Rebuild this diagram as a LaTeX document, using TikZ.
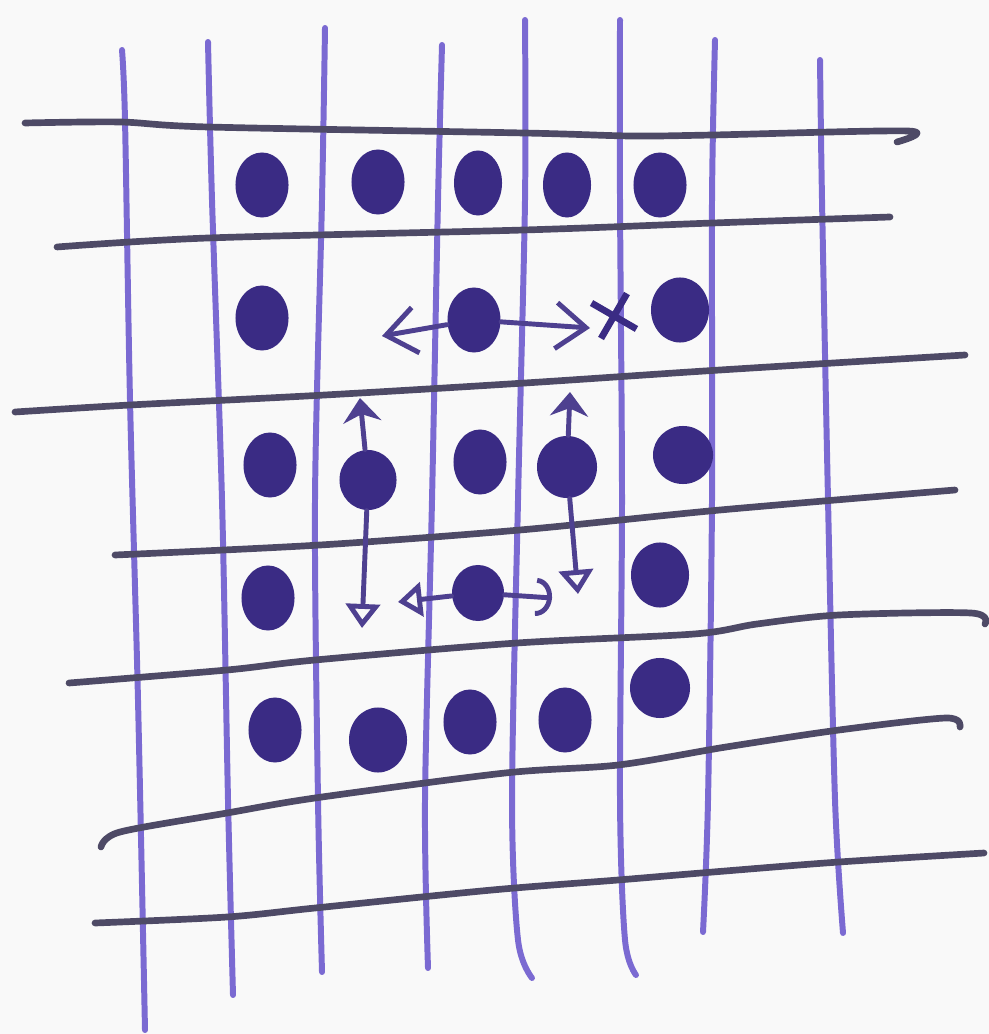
\documentclass[tikz,border=0pt]{standalone}
\usepackage{xcolor}
\usetikzlibrary{shapes.geometric, shapes.misc, arrows.meta}

\definecolor{penblue}{HTML}{7B6AD2}
\definecolor{pengrey}{HTML}{4E4A66}
\definecolor{inkdot}{HTML}{3A2B84}
\definecolor{paper}{HTML}{F9F9F9}

\begin{document}
\begin{tikzpicture}[
    x=0.01cm, y=-0.01cm,
    vline/.style={draw=penblue, line width=1.7pt, line cap=round, line join=round},
    hline/.style={draw=pengrey, line width=1.9pt, line cap=round, line join=round},
    dot/.style={ellipse, fill=inkdot, minimum width=0.53cm, minimum height=0.65cm, inner sep=0pt},
    move/.style={draw=inkdot!90, line width=1.4pt, line cap=round},
    sidebarb/.style={move, -{Straight Barb[length=3mm, width=4.6mm]}},
    upstealth/.style={move, -{Stealth[length=2.4mm, width=3.8mm]}},
    downopen/.style={move, -{Triangle[open, length=2.4mm, width=3.4mm]}},
    curlend/.style={move, -{Arc Barb[length=1.6mm, width=3.8mm]}}
]
    % Paper
    \fill[paper] (0,0) rectangle (989,1034);
    \useasboundingbox (0,0) rectangle (989,1034);

    % Vertical lines
    \draw[vline] plot[smooth, tension=0.5] coordinates {(122,50) (125,120) (130,400) (138,700) (145,1030)};
    \draw[vline] plot[smooth, tension=0.5] coordinates {(208,42) (212,200) (222,500) (228,800) (233,995)};
    \draw[vline] plot[smooth, tension=0.5] coordinates {(325,28) (322,200) (315,500) (318,800) (322,972)};
    \draw[vline] plot[smooth, tension=0.5] coordinates {(442,45) (438,200) (432,500) (425,800) (428,968)};
    \draw[vline] plot[smooth, tension=0.5] coordinates {(525,20) (525,200) (518,500) (512,800) (518,940) (532,978)};
    \draw[vline] plot[smooth, tension=0.5] coordinates {(620,20) (620,200) (622,500) (620,800) (625,940) (636,975)};
    \draw[vline] plot[smooth, tension=0.5] coordinates {(715,40) (712,200) (712,500) (708,800) (703,932)};
    \draw[vline] plot[smooth, tension=0.5] coordinates {(820,60) (822,200) (828,500) (835,800) (843,933)};

    % Horizontal lines
    \draw[hline] plot[smooth, tension=0.5] coordinates {(25,123) (120,122) (208,127) (524,133) (631,136) (713,135) (908,131) (897,142)};
    \draw[hline] plot[smooth, tension=0.5] coordinates {(57,247) (208,238) (524,230) (713,223) (890,217)};
    \draw[hline] plot[smooth, tension=0.5] coordinates {(15,412) (130,405) (325,395) (525,383) (720,370) (965,355)};
    \draw[hline] plot[smooth, tension=0.5] coordinates {(115,555) (320,545) (520,530) (720,510) (955,490)};
    \draw[hline] plot[smooth, tension=0.5] coordinates {(69,683) (227,670) (315,660) (517,643) (694,634) (757,624) (839,615) (971,613) (985,624)};
    \draw[hline] plot[smooth, tension=0.5] coordinates {(101,847) (120,832) (227,813) (315,798) (505,773) (618,765) (726,747) (839,730) (946,718) (960,727)};
    \draw[hline] plot[smooth, tension=0.5] coordinates {(95,923) (227,917) (315,908) (492,890) (618,880) (713,872) (839,862) (984,853)};

    % Atoms, row by row
    \node[dot] (d11) at (262,185) {};
    \node[dot] (d12) at (378,182) {};
    \node[dot, minimum width=0.48cm] (d13) at (478,183) {};
    \node[dot, minimum width=0.48cm] (d14) at (567,185) {};
    \node[dot] (d15) at (660,185) {};

    \node[dot] (d21) at (262,318) {};
    \node[dot] (d22) at (474,320) {};
    \node[dot, minimum width=0.58cm] (d23) at (680,310) {};

    \node[dot] (d31) at (270,465) {};
    \node[dot, minimum width=0.57cm, minimum height=0.6cm] (d32) at (368,480) {};
    \node[dot] (d33) at (480,462) {};
    \node[dot, minimum width=0.6cm, minimum height=0.62cm] (d34) at (567,467) {};
    \node[dot, minimum width=0.6cm, minimum height=0.58cm] (d35) at (683,455) {};

    \node[dot] (d41) at (268,598) {};
    \node[dot, minimum width=0.52cm, minimum height=0.56cm] (d42) at (478,593) {};
    \node[dot, minimum width=0.58cm] (d43) at (660,575) {};

    \node[dot] (d51) at (275,730) {};
    \node[dot, minimum width=0.58cm] (d52) at (378,740) {};
    \node[dot] (d53) at (470,722) {};
    \node[dot] (d54) at (565,720) {};
    \node[dot, minimum width=0.6cm, minimum height=0.6cm] (d55) at (660,688) {};

    % Vacancy mark
    \node[cross out, draw=inkdot, line width=1.9pt, minimum size=0.3cm, rotate=15] (gap) at (614,316) {};

    % Hop ends
    \coordinate (l22) at (382,336);
    \coordinate (r22) at (590,328);
    \coordinate (u32) at (360,398);
    \coordinate (b32) at (362,628);
    \coordinate (u34) at (570,392);
    \coordinate (b34) at (578,594);
    \coordinate (l42) at (398,602);
    \coordinate (r42) at (552,598);

    % Hops
    \draw[sidebarb] (d22) -- (l22);
    \draw[sidebarb] (d22) -- (r22);
    \draw[upstealth] (d32) -- (u32);
    \draw[downopen] (d32) -- (b32);
    \draw[upstealth] (d34) -- (u34);
    \draw[downopen] (d34) -- (b34);
    \draw[downopen] (d42) -- (l42);
    \draw[curlend] (d42) -- (r42);

\end{tikzpicture}
\end{document}
